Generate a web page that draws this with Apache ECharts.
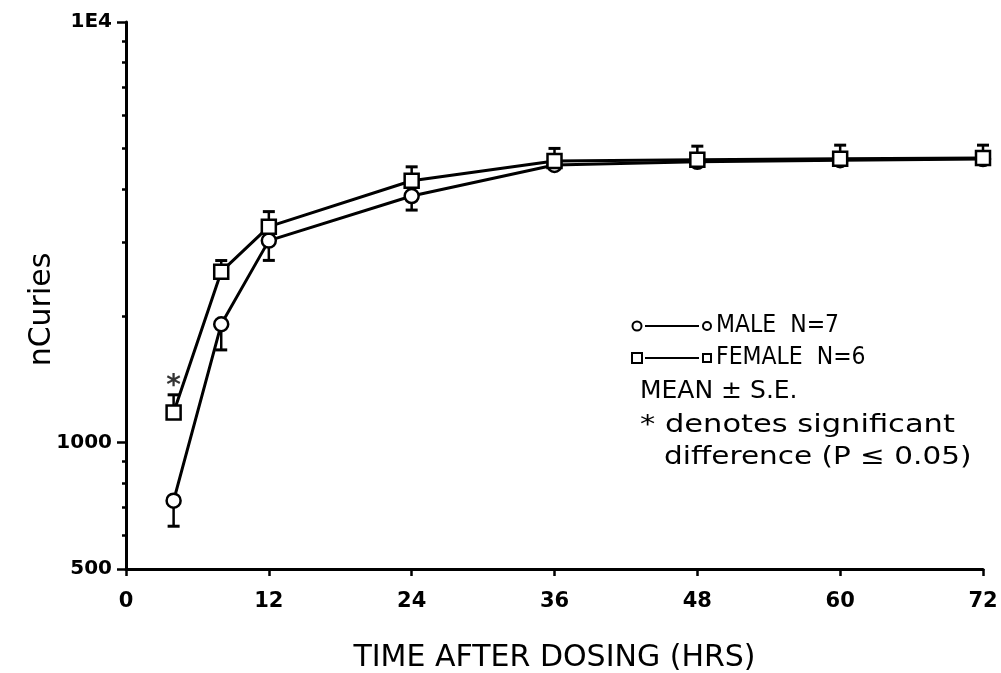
<!DOCTYPE html>
<html>
<head>
<meta charset="utf-8">
<script src="https://cdn.jsdelivr.net/npm/echarts@6/dist/echarts.min.js"></script>
<style>
  html, body { margin: 0; padding: 0; background: #fff; }
  #plot { width: 1001px; height: 673px; }
</style>
</head>
<body>
<div id="plot"></div>
<script>
// hours after dosing
const times = [4, 8, 12, 24, 36, 48, 60, 72];

// MALE N=7 (mean, standard error) - error bars drawn downward
const maleMean = [727, 1910, 3020, 3855, 4570, 4650, 4690, 4720];
const maleSE = [95, 250, 310, 285, 80, 80, 80, 80];

// FEMALE N=6 - error bars drawn upward
const femaleMean = [1178, 2548, 3260, 4192, 4668, 4700, 4730, 4750];
const femaleSE = [120, 160, 280, 332, 336, 366, 364, 344];

// significant difference marker
const sigTimes = [4];
const sigValues = [1360];

const yMajor = [500, 1000, 10000];
const yMinor = [600, 700, 800, 900, 2000, 3000, 4000, 5000, 6000, 7000, 8000, 9000];

const FONT = "DejaVu Sans";

function errorBars(means, ses, dir) {
  return {
    type: "custom",
    z: 2,
    data: times.map((t, i) => [t, means[i], means[i] + dir * ses[i]]),
    renderItem: function (params, api) {
      const p0 = api.coord([api.value(0), api.value(1)]);
      const p1 = api.coord([api.value(0), api.value(2)]);
      const w = 6;
      return {
        type: "group",
        children: [
          { type: "line", shape: { x1: p0[0], y1: p0[1], x2: p1[0], y2: p1[1] }, style: { stroke: "#000", lineWidth: 2.5 } },
          { type: "line", shape: { x1: p1[0] - w, y1: p1[1], x2: p1[0] + w, y2: p1[1] }, style: { stroke: "#000", lineWidth: 3 } }
        ]
      };
    }
  };
}

const chart = echarts.init(document.getElementById("plot"));

chart.setOption({
  animation: false,
  backgroundColor: "#fff",
  grid: { left: 126, right: 18, top: 22, bottom: 104, containLabel: false, outerBoundsMode: "none" },
  xAxis: {
    type: "value",
    min: 0,
    max: 72,
    interval: 12,
    name: "TIME AFTER DOSING (HRS)",
    nameLocation: "middle",
    nameGap: 74,
    nameMoveOverlap: false,
    nameTextStyle: { fontFamily: FONT, fontSize: 30, color: "#000" },
    axisLine: { lineStyle: { color: "#000", width: 3 } },
    axisTick: { show: true, length: 7, lineStyle: { color: "#000", width: 2.5 } },
    axisLabel: { fontFamily: FONT, fontWeight: "bold", fontSize: 21, color: "#000", margin: 22 },
    splitLine: { show: false }
  },
  yAxis: [
    {
      type: "log",
      logBase: 10,
      min: 500,
      max: 10000,
      name: "nCuries",
      nameLocation: "middle",
      nameGap: 69,
      nameMoveOverlap: false,
      nameTextStyle: { fontFamily: FONT, fontSize: 30, color: "#000", padding: [0, 28, 0, 0] },
      axisLine: { show: true, lineStyle: { color: "#000", width: 3 } },
      axisTick: { show: true, length: 9, customValues: yMajor, lineStyle: { color: "#000", width: 2.5 } },
      axisLabel: {
        customValues: yMajor,
        fontFamily: FONT, fontWeight: "bold", fontSize: 20, color: "#000", margin: 14,
        formatter: v => (Math.round(v) === 10000 ? "1E4" : String(Math.round(v)))
      },
      splitLine: { show: false }
    },
    {
      type: "log",
      logBase: 10,
      min: 500,
      max: 10000,
      position: "left",
      offset: 0,
      axisLine: { show: false },
      axisTick: { show: true, length: 4, customValues: yMinor, lineStyle: { color: "#000", width: 2.5 } },
      axisLabel: { show: false },
      splitLine: { show: false }
    }
  ],
  series: [
    errorBars(maleMean, maleSE, -1),
    errorBars(femaleMean, femaleSE, 1),
    {
      name: "MALE",
      type: "line",
      z: 3,
      data: times.map((t, i) => [t, maleMean[i]]),
      symbol: "circle",
      symbolSize: 14,
      showAllSymbol: true,
      lineStyle: { color: "#000", width: 3 },
      itemStyle: { color: "#fff", borderColor: "#000", borderWidth: 2.5 }
    },
    {
      name: "FEMALE",
      type: "line",
      z: 4,
      data: times.map((t, i) => [t, femaleMean[i]]),
      symbol: "rect",
      symbolSize: 14,
      showAllSymbol: true,
      lineStyle: { color: "#000", width: 3 },
      itemStyle: { color: "#fff", borderColor: "#000", borderWidth: 2.5 }
    },
    {
      type: "scatter",
      z: 5,
      data: sigTimes.map((t, i) => [t, sigValues[i]]),
      symbolSize: 1,
      itemStyle: { color: "rgba(0,0,0,0)" },
      label: { show: true, position: "inside", formatter: "*", fontFamily: FONT, fontSize: 28, fontWeight: "bold", color: "#000" }
    }
  ],
  graphic: [
    { type: "circle", shape: { cx: 637, cy: 326, r: 4.5 }, style: { fill: "#fff", stroke: "#000", lineWidth: 2 } },
    { type: "line", shape: { x1: 645, y1: 326, x2: 699, y2: 326 }, style: { stroke: "#000", lineWidth: 2 } },
    { type: "circle", shape: { cx: 707, cy: 326, r: 4 }, style: { fill: "#fff", stroke: "#000", lineWidth: 2 } },
    { type: "text", x: 716, y: 313, scaleX: 0.88, style: { text: "MALE  N=7", font: "25px DejaVu Sans", fill: "#000" } },
    { type: "rect", shape: { x: 632, y: 353, width: 10, height: 10 }, style: { fill: "#fff", stroke: "#000", lineWidth: 2 } },
    { type: "line", shape: { x1: 645, y1: 358, x2: 699, y2: 358 }, style: { stroke: "#000", lineWidth: 2 } },
    { type: "rect", shape: { x: 703, y: 354, width: 8, height: 8 }, style: { fill: "#fff", stroke: "#000", lineWidth: 2 } },
    { type: "text", x: 716, y: 345, scaleX: 0.88, style: { text: "FEMALE  N=6", font: "25px DejaVu Sans", fill: "#000" } },
    { type: "text", x: 640, y: 379, style: { text: "MEAN \u00b1 S.E.", font: "25px DejaVu Sans", fill: "#000" } },
    { type: "text", x: 640, y: 413, scaleX: 1.22, style: { text: "* denotes significant", font: "25px DejaVu Sans", fill: "#000" } },
    { type: "text", x: 664, y: 445, scaleX: 1.18, style: { text: "difference (P \u2264 0.05)", font: "25px DejaVu Sans", fill: "#000" } }
  ]
});
</script>
</body>
</html>
